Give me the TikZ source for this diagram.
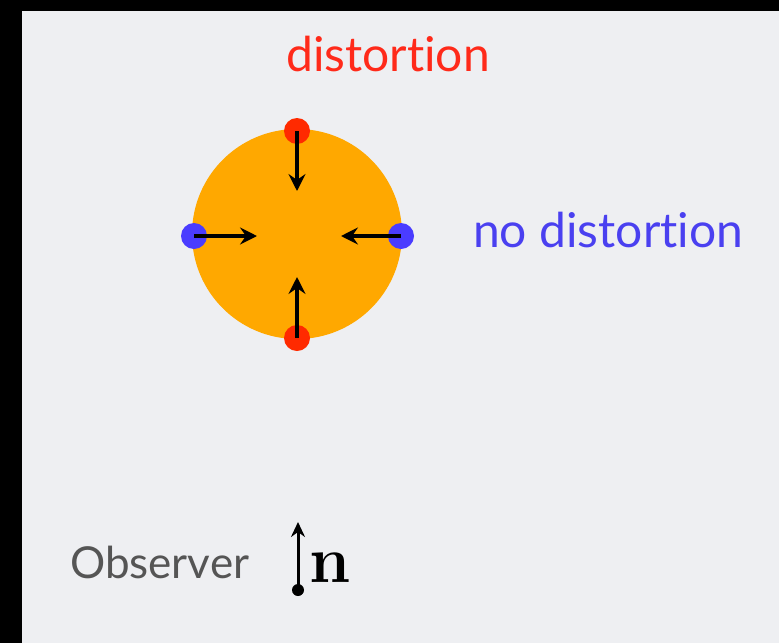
\documentclass[tikz,border=0pt]{standalone}
\usepackage{fontspec}
\newfontfamily\gill[Ligatures=NoCommon]{Lato}
\usetikzlibrary{arrows.meta}
\definecolor{bg}{HTML}{EEEFF2}
\definecolor{disk}{HTML}{FFA800}
\definecolor{rdot}{HTML}{FF2A00}
\definecolor{bdot}{HTML}{4A3CFF}
\definecolor{rtext}{HTML}{FF2A1A}
\definecolor{btext}{HTML}{4A40F0}
\definecolor{gtext}{HTML}{555555}
\tikzset{
  rdotst/.style={circle,fill=rdot,inner sep=0pt,minimum size=26pt},
  bdotst/.style={circle,fill=bdot,inner sep=0pt,minimum size=26pt},
  push/.style={line width=3.6pt,-{Stealth[length=17pt,width=17pt,inset=6pt]}},
  lbl/.style={inner sep=0pt,font=\gill\fontsize{48}{48}\selectfont}
}
\begin{document}
\begin{tikzpicture}[x=1pt,y=-1pt]
\fill[black] (0,0) rectangle (779,643);
\fill[bg] (22,11) rectangle (779,643);
\useasboundingbox (0,0) rectangle (779,643);
\node[circle,fill=disk,inner sep=0pt,minimum size=210pt] (disk) at (297,234) {};
\node[rdotst] (top) at (297,131) {};
\node[rdotst] (bot) at (297,338) {};
\node[bdotst] (left) at (194,236) {};
\node[bdotst] (right) at (401,236) {};
\coordinate (ttip) at (297,191);
\coordinate (btip) at (297,277);
\coordinate (ltip) at (257,236);
\coordinate (rtip) at (341,236);
\draw[push] (top.center) -- (ttip);
\draw[push] (bot.center) -- (btip);
\draw[push] (left.center) -- (ltip);
\draw[push] (right.center) -- (rtip);
\node[lbl,text=rtext,anchor=base] (dist) at (388,71) {distortion};
\node[lbl,text=btext,anchor=base west] (nodist) at (473,247) {no distortion};
\node[inner sep=0pt,anchor=base west,text=gtext,font=\gill\fontsize{44}{44}\selectfont] (obs) at (70,578) {Observer};
\node[circle,fill=black,inner sep=0pt,minimum size=12pt] (odot) at (298,590) {};
\coordinate (otip) at (298,522);
\draw[line width=3pt,-{Stealth[length=15pt,width=14pt,inset=5pt]}] (odot.center) -- (otip);
\node[inner sep=0pt,anchor=base west,font=\fontsize{66}{66}\selectfont\bfseries] (n) at (309,582) {n};
\end{tikzpicture}
\end{document}
